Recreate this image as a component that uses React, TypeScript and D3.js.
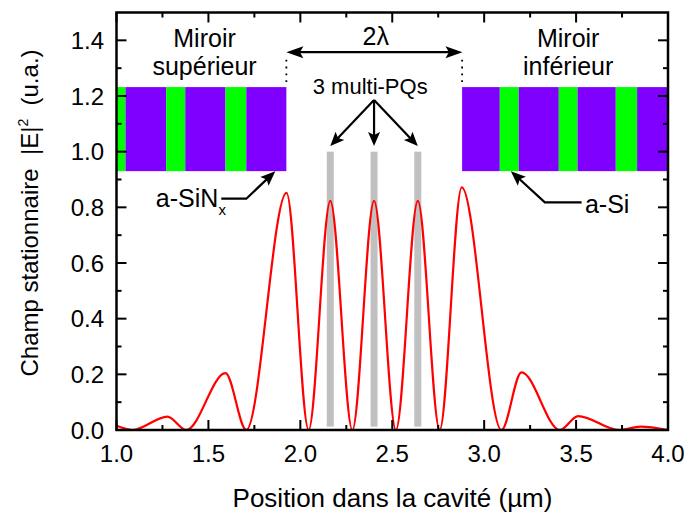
import React from "react";
import * as d3 from "d3";

// ---------- data ----------
const curveX = [1.0, 1.087, 1.277, 1.379, 1.593, 1.706, 1.925, 2.045, 2.163, 2.283, 2.401, 2.52, 2.639, 2.758, 2.878, 3.094, 3.203, 3.412, 3.511, 3.734, 3.85, 4.0];
const curveY = [0.015, 0.0, 0.048, 0.0, 0.204, 0.0, 0.852, 0.0, 0.823, 0.0, 0.823, 0.0, 0.823, 0.0, 0.872, 0.0, 0.207, 0.0, 0.05, 0.0, 0.012, 0.0];

const qwCenters = [2.163, 2.401, 2.639];
const qwTop = 1.0;
const qwBottom = 0.012;

const leftMirrorEdges = [1.0, 1.049, 1.27, 1.374, 1.593, 1.706, 1.924];
const leftMirrorMaterials = ["Si", "SiN", "Si", "SiN", "Si", "SiN"];
const rightMirrorEdges = [2.88, 3.085, 3.188, 3.406, 3.508, 3.716, 3.832, 4.0];
const rightMirrorMaterials = ["SiN", "Si", "SiN", "Si", "SiN", "Si", "SiN"];
const mirrorTop = 1.232;
const mirrorBottom = 0.93;

const xMajorTicks = [1.0, 1.5, 2.0, 2.5, 3.0, 3.5, 4.0];
const xMinorTicks = [1.25, 1.75, 2.25, 2.75, 3.25, 3.75];
const yMajorTicks = [0.0, 0.2, 0.4, 0.6, 0.8, 1.0, 1.2, 1.4];
const yMinorTicks = [0.1, 0.3, 0.5, 0.7, 0.9, 1.1, 1.3];

const xTitle = "Position dans la cavité (µm)";

// ---------- layout ----------
const W = 687, H = 512;
const L = 116.5, R = 668, T = 12.5, B = 430;
const FONT = "'Liberation Sans', Arial, Helvetica, sans-serif";
const colors: Record<string, string> = { Si: "#00FF00", SiN: "#8000FF" };

const x = d3.scaleLinear().domain([1, 4]).range([L, R]);
const y = d3.scaleLinear().domain([0, 1.5]).range([B, T]);

function arrowHead(x1: number, y1: number, x2: number, y2: number, len = 15, half = 6) {
  const a = Math.atan2(y2 - y1, x2 - x1);
  const bx = x2 - len * Math.cos(a), by = y2 - len * Math.sin(a);
  const px = -Math.sin(a) * half, py = Math.cos(a) * half;
  return `M${x2},${y2}L${bx + px},${by + py}L${bx + len * 0.2 * Math.cos(a)},${by + len * 0.2 * Math.sin(a)}L${bx - px},${by - py}Z`;
}

function Arrow({ pts, len = 15, half = 6, both = false }: { pts: [number, number][]; len?: number; half?: number; both?: boolean }) {
  const p = pts.map(([a, b]) => [x(a), y(b)] as [number, number]);
  const n = p.length;
  const a = Math.atan2(p[n - 1][1] - p[n - 2][1], p[n - 1][0] - p[n - 2][0]);
  const lineEnd: [number, number] = [p[n - 1][0] - len * 0.7 * Math.cos(a), p[n - 1][1] - len * 0.7 * Math.sin(a)];
  const linePts = [...p.slice(0, n - 1), lineEnd];
  if (both) {
    const b = Math.atan2(p[0][1] - p[1][1], p[0][0] - p[1][0]);
    linePts[0] = [p[0][0] - len * 0.7 * Math.cos(b), p[0][1] - len * 0.7 * Math.sin(b)];
  }
  return (
    <g>
      <path d={d3.line()(linePts) || ""} fill="none" stroke="#000" strokeWidth={2.2} />
      <path d={arrowHead(p[n - 2][0], p[n - 2][1], p[n - 1][0], p[n - 1][1], len, half)} fill="#000" />
      {both && <path d={arrowHead(p[1][0], p[1][1], p[0][0], p[0][1], len, half)} fill="#000" />}
    </g>
  );
}

export default function App() {
  const data = curveX.map((v, i) => [v, curveY[i]] as [number, number]);
  const line = d3.line<[number, number]>().x(d => x(d[0])).y(d => y(d[1])).curve(d3.curveMonotoneX);
  const qwW = 7;

  const mirror = (edges: number[], mats: string[]) =>
    mats.map((m, i) => (
      <rect key={i} x={x(edges[i])} y={y(mirrorTop)} width={x(edges[i + 1]) - x(edges[i])} height={y(mirrorBottom) - y(mirrorTop)} fill={colors[m]} />
    ));

  const tickLen = 10, minorLen = 5;

  return (
    <svg width={W} height={H} style={{ position: "absolute", left: 0, top: 0, background: "#fff" }} fontFamily={FONT}>
      <rect width={W} height={H} fill="#fff" />
      {mirror(leftMirrorEdges, leftMirrorMaterials)}
      {mirror(rightMirrorEdges, rightMirrorMaterials)}

      {qwCenters.map((c, i) => (
        <rect key={i} x={x(c) - qwW / 2} y={y(qwTop)} width={qwW} height={y(qwBottom) - y(qwTop)} fill="#C0C0C0" />
      ))}

      <path d={line(data) || ""} fill="none" stroke="#FF0000" strokeWidth={2.2} />

      {/* dotted lines */}
      {[1.924, 2.88].map((v, i) => (
        <line key={i} x1={x(v)} x2={x(v)} y1={y(1.33)} y2={y(mirrorTop)} stroke="#000" strokeWidth={1.8} strokeDasharray="1.8,5" />
      ))}

      {/* 2 lambda arrow */}
      <Arrow pts={[[1.924, 1.3575], [2.882, 1.3575]]} both len={17} half={6} />
      <text x={x(2.41)} y={y(1.382)} fontSize={25} textAnchor="middle">2λ</text>

      {/* multi-PQs */}
      <text x={x(2.38)} y={y(1.206)} fontSize={22} textAnchor="middle">3 multi-PQs</text>
      {qwCenters.map((c, i) => (
        <Arrow key={i} pts={[[2.401, 1.186], [c, 1.02]]} len={14} half={6} />
      ))}

      {/* mirrors labels */}
      <text x={x(1.479)} y={46.5} fontSize={25} textAnchor="middle">Miroir</text>
      <text x={x(1.479)} y={75} fontSize={25} textAnchor="middle">supérieur</text>
      <text x={x(3.457)} y={46.5} fontSize={25} textAnchor="middle">Miroir</text>
      <text x={x(3.457)} y={75} fontSize={25} textAnchor="middle">inférieur</text>

      {/* a-SiNx */}
      <text x={x(1.595)} y={y(0.8)} fontSize={25} textAnchor="end">
        a-SiN<tspan fontSize={15} dy={8}>x</tspan>
      </text>
      <Arrow pts={[[1.57, 0.831], [1.706, 0.831], [1.864, 0.93]]} len={15} half={6} />

      {/* a-Si */}
      <text x={x(3.548)} y={y(0.779)} fontSize={25}>a-Si</text>
      <Arrow pts={[[3.53, 0.818], [3.33, 0.818], [3.145, 0.93]]} len={15} half={6} />

      {/* axes frame */}
      <rect x={L} y={T} width={R - L} height={B - T} fill="none" stroke="#000" strokeWidth={2.5} />
      {xMajorTicks.map((t, i) => (
        <g key={"xM" + i}>
          <line x1={x(t)} x2={x(t)} y1={B} y2={B - tickLen} stroke="#000" strokeWidth={2} />
          <line x1={x(t)} x2={x(t)} y1={T} y2={T + tickLen} stroke="#000" strokeWidth={2} />
          <text x={x(t)} y={462} fontSize={24} textAnchor="middle">{t.toFixed(1)}</text>
        </g>
      ))}
      {xMinorTicks.map((t, i) => (
        <g key={"xm" + i}>
          <line x1={x(t)} x2={x(t)} y1={B} y2={B - minorLen} stroke="#000" strokeWidth={2} />
          <line x1={x(t)} x2={x(t)} y1={T} y2={T + minorLen} stroke="#000" strokeWidth={2} />
        </g>
      ))}
      {yMajorTicks.map((t, i) => (
        <g key={"yM" + i}>
          <line x1={L} x2={L + tickLen} y1={y(t)} y2={y(t)} stroke="#000" strokeWidth={2} />
          <line x1={R} x2={R - tickLen} y1={y(t)} y2={y(t)} stroke="#000" strokeWidth={2} />
          <text x={104} y={y(t) + 8.5} fontSize={24} textAnchor="end">{t.toFixed(1)}</text>
        </g>
      ))}
      {yMinorTicks.map((t, i) => (
        <g key={"ym" + i}>
          <line x1={L} x2={L + minorLen} y1={y(t)} y2={y(t)} stroke="#000" strokeWidth={2} />
          <line x1={R} x2={R - minorLen} y1={y(t)} y2={y(t)} stroke="#000" strokeWidth={2} />
        </g>
      ))}

      {/* titles */}
      <text x={392.5} y={507} fontSize={26} textAnchor="middle">{xTitle}</text>
      <text transform="translate(38,213) rotate(-90)" fontSize={24} textAnchor="middle">
        {"Champ stationnaire\u00A0\u00A0|E|"}<tspan fontSize={14} dy={-10}>2</tspan><tspan dy={10}>{"\u00A0\u00A0(u.a.)"}</tspan>
      </text>
    </svg>
  );
}
